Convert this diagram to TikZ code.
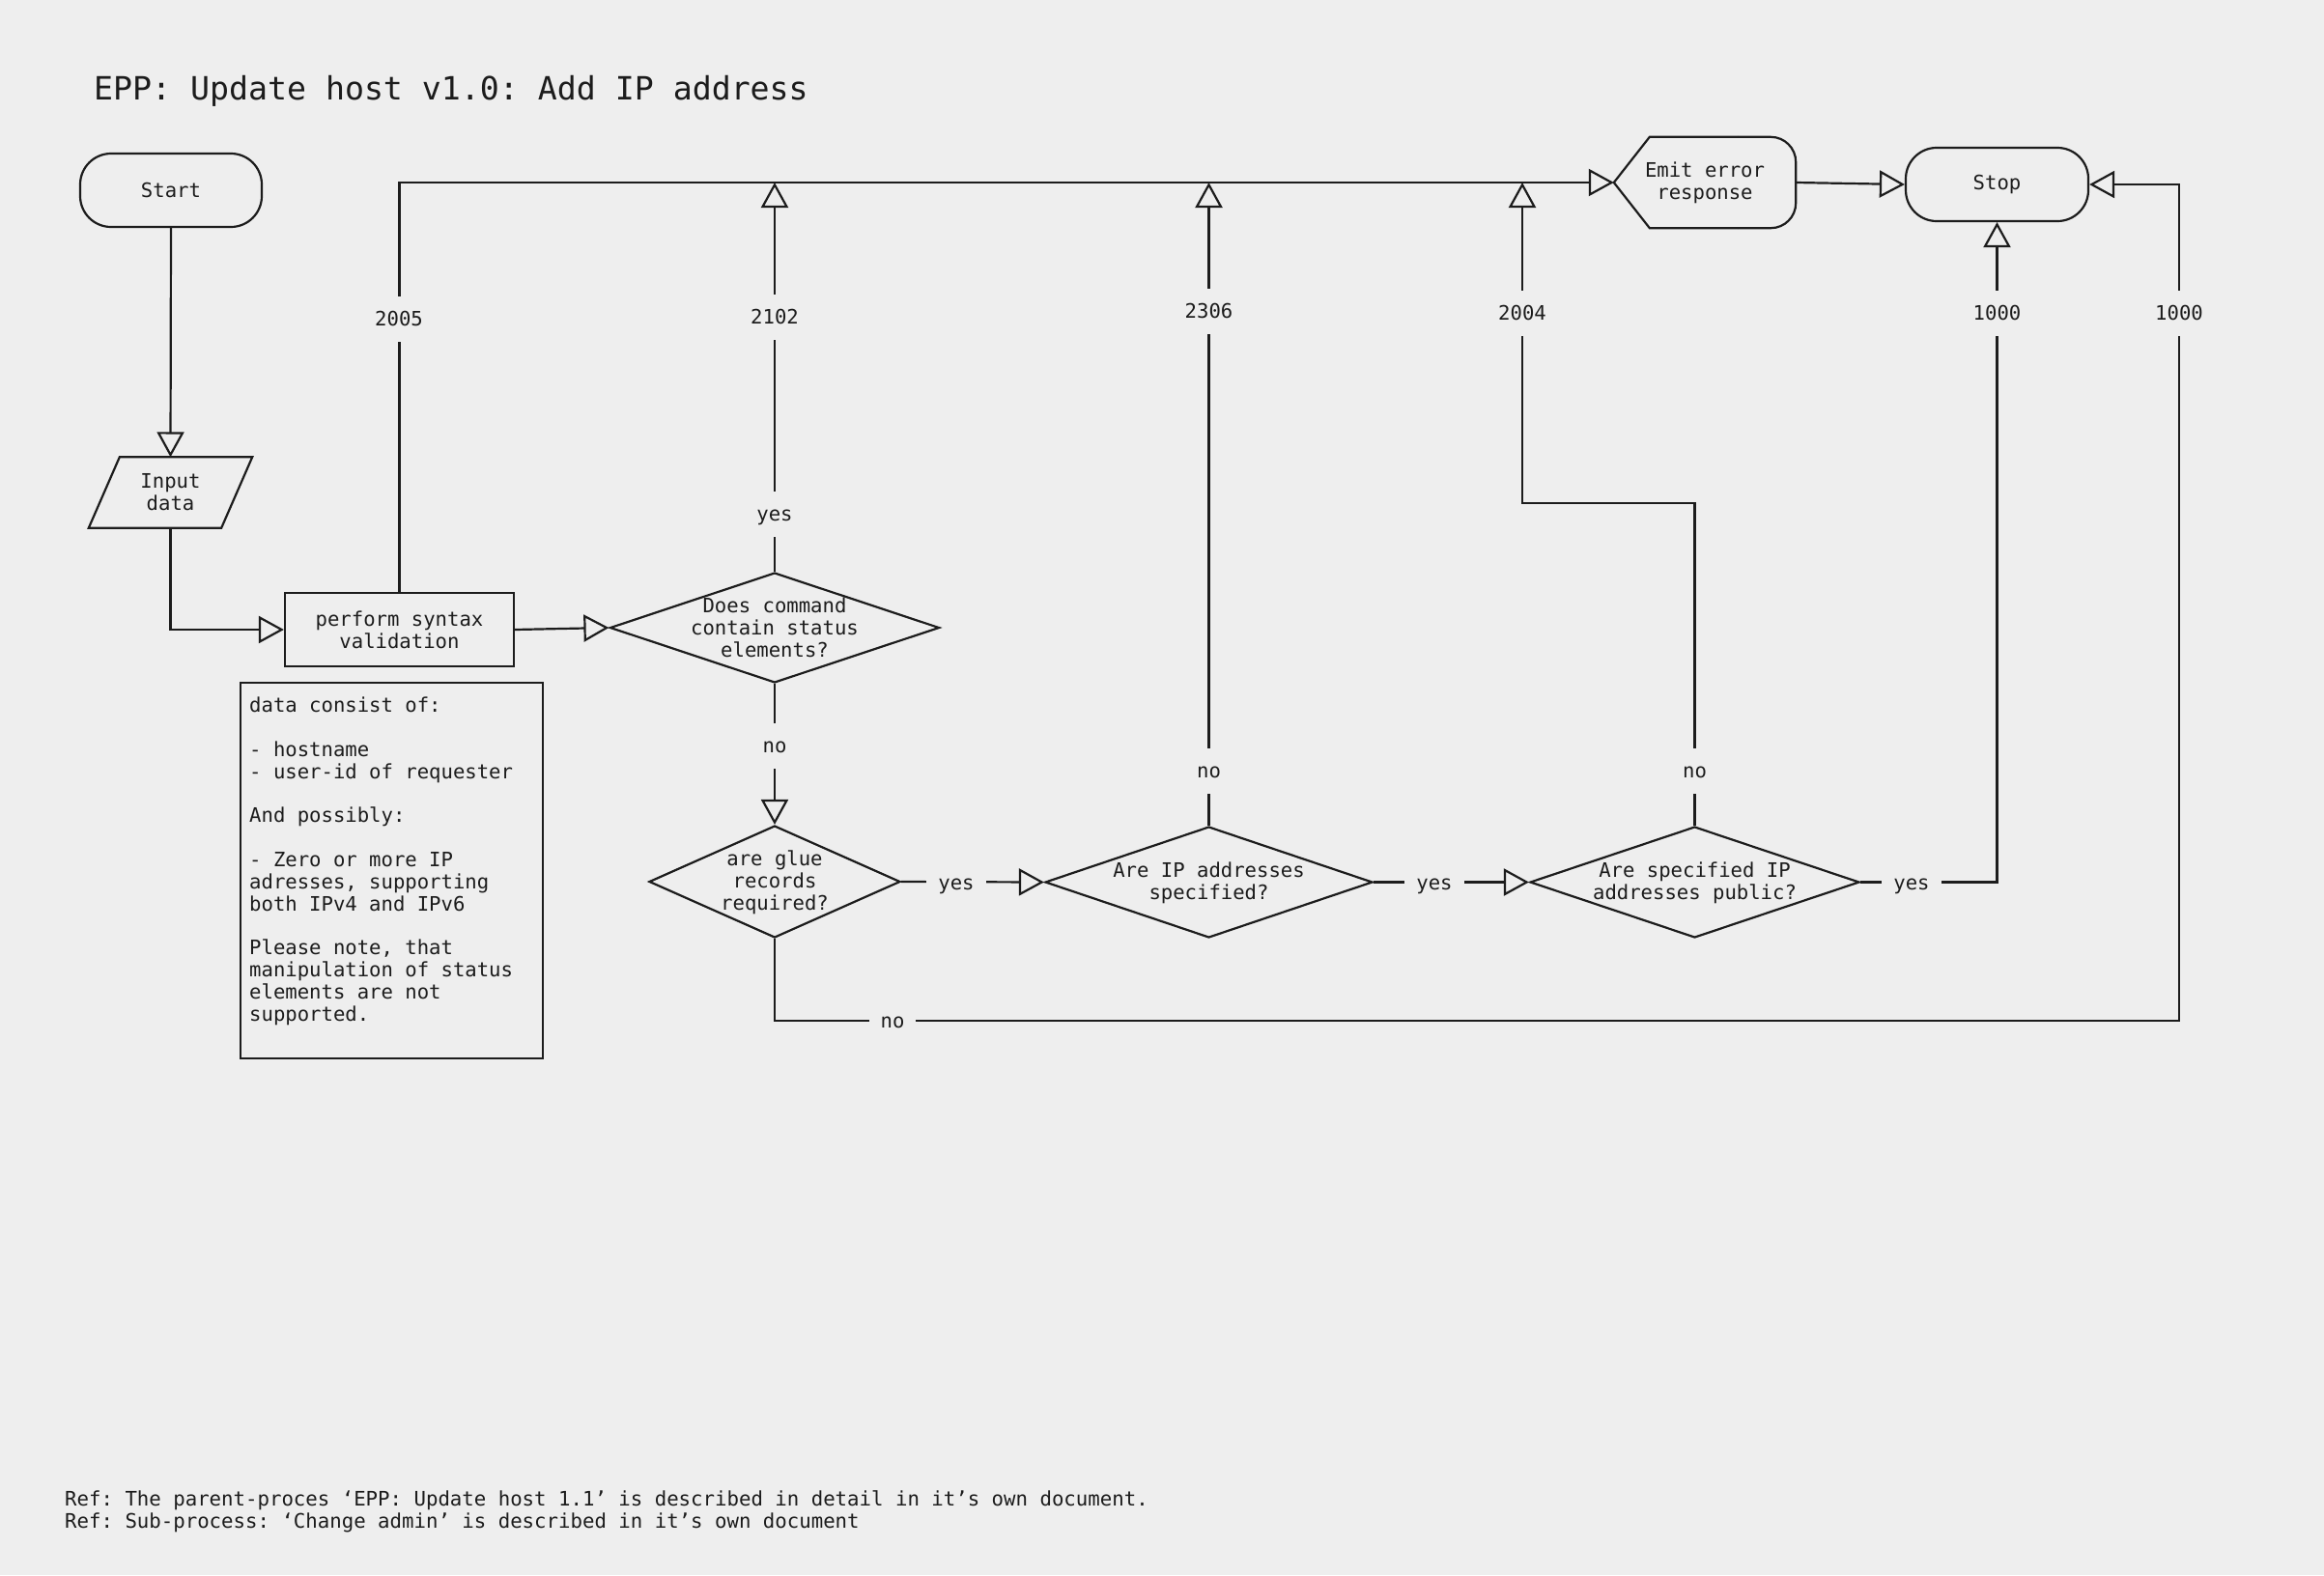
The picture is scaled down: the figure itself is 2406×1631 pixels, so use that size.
\documentclass[tikz,border=0pt]{standalone}
\usepackage{fontspec}
\setmonofont{DejaVu Sans Mono}
\usetikzlibrary{arrows.meta,shapes.geometric}
\definecolor{bgc}{HTML}{EEEEEE}
\definecolor{ink}{HTML}{1C1C1C}
\begin{document}
\begin{tikzpicture}[x=1pt,y=-1pt,
  every node/.style={font=\ttfamily\fontsize{20.6}{22.8}\selectfont, text=ink},
  ln/.style={draw=ink, line width=2.2pt},
  arr/.style={ln, -{Triangle[open,length=26pt,width=28pt]}},
  term/.style={draw=ink, line width=2.2pt, rectangle, rounded corners=32pt, minimum width=188pt, minimum height=76pt, inner sep=0pt},
  procbox/.style={draw=ink, line width=2.2pt, rectangle, minimum width=237pt, minimum height=76pt, align=center, inner sep=0pt},
  dia/.style={draw=ink, line width=2.2pt, diamond, inner sep=0pt},
  dtext/.style={align=center, inner sep=0pt},
  lbl/.style={fill=bgc, inner xsep=12pt, inner ysep=16pt, text height=15pt, text depth=0pt},
  reftext/.style={anchor=base west, inner sep=0pt, font=\ttfamily\fontsize{20.7}{24}\selectfont},
]
\useasboundingbox (0,0) rectangle (2406,1631);
\fill[bgc] (0,0) rectangle (2406,1631);

% title
\node[anchor=base west, inner sep=0pt, font=\ttfamily\fontsize{33.2}{40}\selectfont] (title) at (97,103) {EPP: Update host v1.0: Add IP address};

% nodes
\node[term] (start) at (177,197) {Start};
\node[align=center, minimum width=169pt, minimum height=73pt, inner sep=0pt] (inp) at (176.5,510) {Input\\data};
\draw[ln] ([xshift=32pt]inp.north west) -- (inp.north east) -- ([xshift=-32pt]inp.south east) -- (inp.south west) -- cycle;
\node[procbox] (box) at (413.5,652) {perform syntax\\validation};
\node[draw=ink, line width=2.2pt, minimum width=313pt, minimum height=389pt, inner sep=0pt] (notes) at (405.5,901.5) {};
\node[align=left, inner sep=0pt, anchor=north west] (notestext) at (258,722) {data consist of:\\[22.8pt]- hostname\\- user-id of requester\\[22.8pt]And possibly:\\[22.8pt]- Zero or more IP\\adresses, supporting\\both IPv4 and IPv6\\[22.8pt]Please note, that\\manipulation of status\\elements are not\\supported.};

\node[dia, minimum width=341pt, minimum height=114pt] (d1) at (802,650) {};
\node[dtext] (d1t) at (802,650) {Does command\\contain status\\elements?};
\node[dia, minimum width=260pt, minimum height=116pt] (d2) at (802,913) {};
\node[dtext] (d2t) at (802,914) {are glue\\records\\required?};
\node[dia, minimum width=339pt, minimum height=115pt] (d3) at (1251.5,913.5) {};
\node[dtext] (d3t) at (1251.5,914) {Are IP addresses\\specified?};
\node[dia, minimum width=341pt, minimum height=115pt] (d4) at (1754.5,913.5) {};
\node[dtext] (d4t) at (1754.5,914) {Are specified IP\\addresses public?};

\node[align=center, minimum width=188pt, minimum height=94pt, inner sep=0pt] (emit) at (1765,189) {Emit error\\response};
\draw[ln] ([xshift=-60pt]emit.south east) -- ([xshift=37pt]emit.south west) -- (emit.west) -- ([xshift=37pt]emit.north west) -- ([xshift=-60pt]emit.north east);
\draw[ln, rounded corners=26pt] ([xshift=-60pt]emit.north east) -- (emit.north east) -- (emit.south east) -- ([xshift=-60pt]emit.south east);
\node[term, minimum width=189pt] (stop) at (2067.5,191) {Stop};

% connectors
\coordinate (j1) at (802,189);
\coordinate (j2) at (1251.5,189);
\coordinate (j3) at (1576,189);
\coordinate (rc) at (2256,1057);
\draw[arr] (start.south) -- (inp.north);
\draw[arr] (inp.south) |- (box.west);
\draw[arr] (box.north) |- (emit.west);
\draw[arr] (box.east) -- (d1.west);
\draw[arr] (d1.north) -- (j1);
\draw[arr] (d1.south) -- (d2.north);
\draw[arr] (d2.east) -- (d3.west);
\draw[arr] (d3.east) -- (d4.west);
\draw[arr] (d3.north) -- (j2);
\draw[arr] (d4.north) -- ++(0,-334) -| (j3);
\draw[arr] (d4.east) -| (stop.south);
\draw[arr] (d2.south) |- (rc) |- (stop.east);
\draw[arr] (emit.east) -- (stop.west);

% labels
\node[lbl] (l2005) at (413,330) {2005};
\node[lbl] (l2102) at (802,328) {2102};
\node[lbl] (lyes1) at (802,532) {yes};
\node[lbl] (lno1) at (802,772) {no};
\node[lbl] (l2306) at (1251.5,322) {2306};
\node[lbl] (lno2) at (1251.5,798) {no};
\node[lbl] (l2004) at (1576,324) {2004};
\node[lbl] (lno3) at (1754.5,798) {no};
\node[lbl] (l1000a) at (2067.5,324) {1000};
\node[lbl] (l1000b) at (2256,324) {1000};
\node[lbl] (lyes2) at (990,914) {yes};
\node[lbl] (lyes3) at (1485,914) {yes};
\node[lbl] (lyes4) at (1979,914) {yes};
\node[lbl] (lno4) at (924,1057) {no};

% references
\node[reftext] (ref1) at (67,1559) {Ref: The parent-proces ‘EPP: Update host 1.1’ is described in detail in it’s own document.};
\node[reftext] (ref2) at (67,1582.5) {Ref: Sub-process: ‘Change admin’ is described in it’s own document};
\end{tikzpicture}
\end{document}
